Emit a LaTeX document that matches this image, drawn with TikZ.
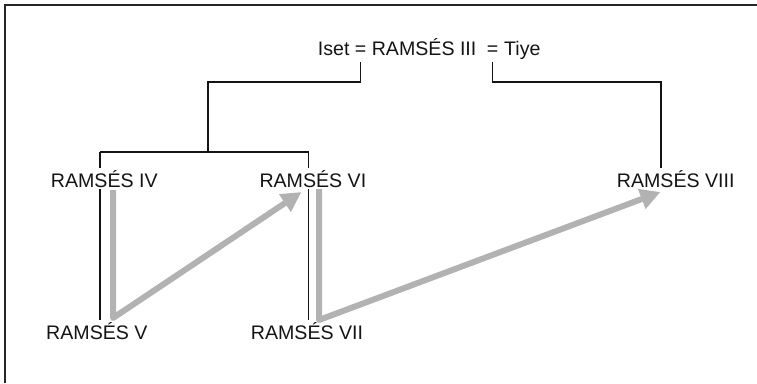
\documentclass[tikz,border=0pt]{standalone}
\usepackage{fontspec}
\setmainfont{Liberation Sans}
\usetikzlibrary{arrows.meta,backgrounds}
\definecolor{succgray}{RGB}{178,178,178}
\definecolor{ink}{RGB}{20,20,20}
\begin{document}
\begin{tikzpicture}[x=1pt,y=-1pt,
  lbl/.style={font=\fontsize{19.6}{22}\selectfont, inner sep=0pt, text=ink},
  king/.style={lbl, fill=white, inner ysep=2pt},
  tree/.style={line width=1.3pt, draw=ink},
  frameline/.style={line width=2pt, draw=black!85},
  succ/.style={line width=6pt, draw=succgray, line join=round,
    -{Triangle[length=20pt,width=20pt]}}]
\useasboundingbox (0,0) rectangle (757,383);
% frame
\draw[frameline] (5,383) -- (5,5) -- (757,5);
% title
\node[lbl, anchor=base west] (iset) at (317.7,55) {Iset};
\node[lbl, anchor=base] (eqa) at (360.5,55) {=};
\node[lbl, anchor=base west] (r3) at (371.6,55) {RAMSÉS III};
\node[lbl, anchor=base] (eqb) at (492.5,55) {=};
\node[lbl, anchor=base west] (tiye) at (504,55) {Tiye};
% kings
\node[king, anchor=base west] (r4) at (50.7,187) {RAMSÉS IV};
\node[king, anchor=base west] (r6) at (259.3,187) {RAMSÉS VI};
\node[king, anchor=base west] (r8) at (616.7,187) {RAMSÉS VIII};
\node[king, anchor=base west] (r5) at (46,339) {RAMSÉS V};
\node[king, anchor=base west] (r7) at (250.7,339) {RAMSÉS VII};
% genealogy lines
\coordinate (fa) at (208,152);
\coordinate (c4) at (100,152);
\coordinate (c6) at (308.5,152);
\coordinate (c8) at (661,120);
\begin{scope}[on background layer]
\draw[tree] ([yshift=-7pt]eqa.base) -- ++(0,20) -| (fa);
\draw[tree] (c4) -- (c6);
\draw[tree] (c4) -- (c4 |- r5.north);
\draw[tree] (c6) -- (c6 |- r7.north);
\draw[tree] ([yshift=-7pt]eqb.base) -- ++(0,20) -| (c8 |- r8.north);
\end{scope}
% succession arrows
\coordinate (s4) at (113,190);
\coordinate (s5) at (113,318);
\coordinate (t6) at (301.5,192);
\coordinate (s6) at (319,189);
\coordinate (s7) at (319,320);
\coordinate (t8) at (660.5,192);
\draw[succ] (s4) -- (s5) -- (t6);
\draw[succ] (s6) -- (s7) -- (t8);
\end{tikzpicture}
\end{document}
